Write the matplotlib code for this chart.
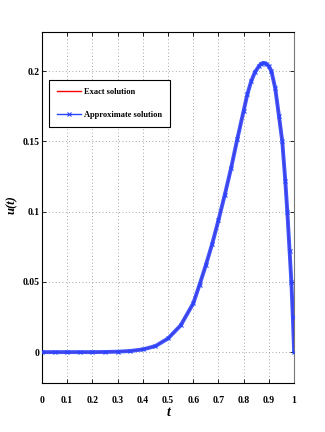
import matplotlib
matplotlib.use("Agg")
import matplotlib.pyplot as plt
from matplotlib.lines import Line2D

# values
t = [0.0, 0.05, 0.1, 0.15, 0.2, 0.25, 0.3, 0.35, 0.4, 0.45, 0.5, 0.55, 0.6,
     0.625, 0.65, 0.675, 0.7, 0.725, 0.75, 0.775, 0.8, 0.815, 0.83, 0.845,
     0.86, 0.87, 0.88, 0.89, 0.9, 0.91, 0.925, 0.94, 0.953, 0.965, 0.973,
     0.982, 0.989, 0.995, 1.0]
u_exact = [0.0, 0.0, 0.0, 0.0, 0.0, 0.0001, 0.0003, 0.0008, 0.0019, 0.0043,
           0.0097, 0.019, 0.0347, 0.048, 0.062, 0.077, 0.094, 0.112, 0.131,
           0.152, 0.172, 0.184, 0.193, 0.1995, 0.2035, 0.2055, 0.206, 0.2052,
           0.2035, 0.200, 0.188, 0.168, 0.150, 0.122, 0.100, 0.072, 0.050,
           0.025, 0.0]
u_approx = list(u_exact)

xticks = [0, 0.1, 0.2, 0.3, 0.4, 0.5, 0.6, 0.7, 0.8, 0.9, 1]
xticklabels = ["0", "0.1", "0.2", "0.3", "0.4", "0.5", "0.6", "0.7", "0.8", "0.9", "1"]
yticks = [0, 0.05, 0.1, 0.15, 0.2]
yticklabels = ["0", "0.05", "0.1", "0.15", "0.2"]

plt.rcParams["font.family"] = ["Liberation Serif", "DejaVu Serif"]

fig = plt.figure(figsize=(3.25, 4.32), dpi=100)
ax = fig.add_axes([0.129, 0.1134, 0.776, 0.8126])

ax.plot(t, u_exact, color="red", lw=1.0, zorder=2)
ax.plot(t, u_approx, color="#2b44ff", lw=2.8, alpha=0.9, zorder=3,
        solid_joinstyle="round", solid_capstyle="round")
ax.plot(t, u_approx, color="#2b44ff", lw=0, marker="x", ms=3, mew=0.8, zorder=4)

ax.set_xlim(0, 1)
ax.set_ylim(-0.022, 0.228)
ax.set_xticks(xticks)
ax.set_xticklabels(xticklabels)
ax.set_yticks(yticks)
ax.set_yticklabels(yticklabels)
ax.tick_params(direction="in", top=True, right=True, length=3, width=0.6,
               labelsize=7)
ax.tick_params(axis="x", pad=9)
ax.tick_params(axis="y", pad=1.5)
for lab in ax.get_xticklabels() + ax.get_yticklabels():
    lab.set_fontweight("bold")

ax.grid(True, linestyle=(0, (1, 3)), color="#888888", lw=0.6)
for s in ax.spines.values():
    s.set_linewidth(0.8)
ax.spines["right"].set_color("#777777")

ax.set_xlabel("t", fontsize=10, fontstyle="italic", fontweight="bold", labelpad=1)
ax.set_ylabel("u(t)", fontsize=9, fontstyle="italic", fontweight="bold")
ax.yaxis.set_label_coords(-0.095, 0.507)

handles = [Line2D([], [], color="red", lw=1.0),
           Line2D([], [], color="#2b44ff", lw=1.0, marker="x", ms=3, mew=0.8)]
leg = ax.legend(handles, ["Exact solution", "Approximate solution"],
                loc="upper left", bbox_to_anchor=(0.028, 0.863), borderaxespad=0,
                fancybox=False, edgecolor="black", framealpha=1,
                prop={"size": 6, "weight": "bold"}, handlelength=2.9,
                handletextpad=0.25, labelspacing=1.7, borderpad=1.0)
leg.get_frame().set_linewidth(0.8)

fig.savefig("out.png", dpi=100)
